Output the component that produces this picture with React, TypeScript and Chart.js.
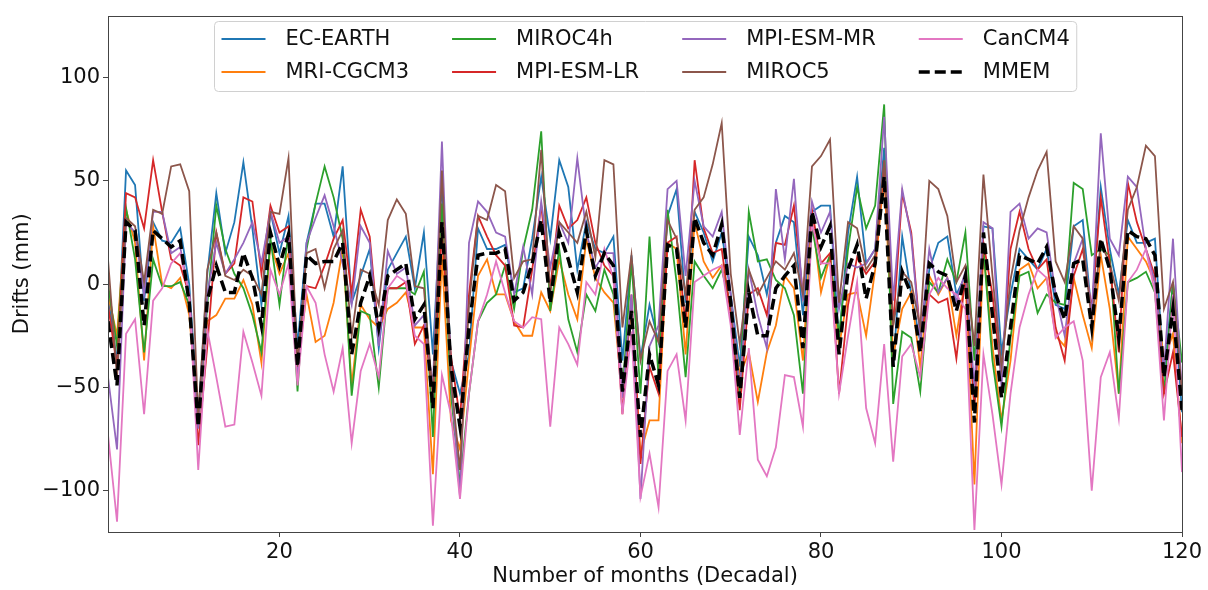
import React, { useEffect, useRef } from "react";
import { Chart, registerables } from "chart.js";
Chart.register(...registerables);

const months = Array.from({ length: 120 }, (_, i) => i + 1);

const ecEarth = [
  -5, -38, 55, 48, -8, 30, 21, 20, 27, 0,
  -65, 5, 44, 15, 30, 59, 27, -10, 35, 15,
  33, -30, 20, 39, 39, 23, 57, -9, 4, 17,
  -31, 7, 15, 23, -2, 25, -34, 49, -37, -53,
  -34, 27, 17, 17, 19, -4, -2, 22, 52, 22,
  60, 47, 7, 30, 17, 15, 23, -37, 14, -36,
  -10, -28, 33, 46, -9, 35, 25, 11, 25, -5,
  -40, 23, 14, -5, 20, 33, 30, -15, 35, 38,
  38, -28, 25, 52, 10, 17, 66, -40, 23, -5,
  -28, 7, 20, 23, -5, 4, -60, 28, 27, -33,
  -5, 17, 12, 7, 17, -10, -12, 28, 31, -15,
  47, 17, -5, 31, 20, 20, 22, -45, 1, -62,
];

const mriCgcm3 = [
  -5, -25, 36, 20, -37, 28, 0, -2, 3, -15,
  -65, -18, -15, -7, -7, 2, -10, -38, 20, 5,
  15, -40, -5, -28, -25, -9, 17, -49, -10, -17,
  -21, -12, -9, -4, -21, -21, -92, 14, -66, -80,
  -37, 4, 12, -5, -5, -18, -25, -25, -4, -13,
  12, -5, -17, 22, 3, -4, -9, -55, -10, -82,
  -66, -66, 20, 17, -34, 30, 11, 3, 9, -12,
  -44, -33, -57, -33, -20, 4, -2, -37, 33, -4,
  14, -30, -5, -4, -25, 7, 53, -35, -12, -4,
  -40, 4, -5, 3, -25, 3, -97, 17, -30, -66,
  -37, 7, 10, -2, 3, -25, -30, 3, -15, -31,
  14, -12, -53, 23, 17, 11, 1, -37, -24, -77,
];

const miroc4h = [
  0, -30, 37, 12, -33, 12, -1, -1, 1, -10,
  -68, -10, 38, 17, 5, -2, -15, -33, 22, -10,
  25, -52, 17, 39, 57, 42, 22, -54, -13, -15,
  -50, -2, -2, -2, -5, 6, -74, 39, -53, -97,
  -53, -18, -9, -5, 9, -12, 17, 36, 74, -13,
  17, -17, -33, -5, -13, 7, -5, -53, 11, -53,
  23, -45, 36, 1, -45, 11, 4, -2, 7, -10,
  -55, 35, 11, 12, 2, -2, -15, -53, 28, 3,
  14, -25, 17, 47, 27, 38, 87, -58, -23, -26,
  -52, 1, -4, 12, 1, 25, -37, 17, -37, -69,
  -26, 4, 6, -14, -5, -9, -10, 49, 46, 14,
  17, 14, -53, 1, 3, 6, -4, -53, 1, -38,
];

const mpiEsmLr = [
  -10, -40, 44, 42, 27, 60, 35, 12, 9, -5,
  -78, -30, 25, 5, 10, 42, 40, 5, 38, 25,
  28, -37, -1, -2, 9, 22, 31, -5, 36, 23,
  -25, -2, -2, 1, -29, -20, -53, 25, -35, -65,
  -5, 33, 23, 14, 9, -20, -21, 7, 38, -2,
  38, 27, 31, 42, 20, 9, 4, -63, -5, -87,
  -40, -53, 20, 23, -20, 60, 27, 15, 17, -15,
  -61, -5, -2, -15, 20, 19, 38, -5, 36, 10,
  15, -53, -10, 13, 5, 11, 58, -20, 44, 25,
  -25, -5, -9, -7, -36, 4, -60, 20, -5, -45,
  17, 35, 17, 7, 12, -21, -37, 4, 17, -12,
  42, 10, -33, 49, 30, 17, 4, -53, -33, -74,
];

const mpiEsmMr = [
  -45, -80, 30, 25, -5, 35, 35, 15, 18, -5,
  -70, -5, 20, 5, 12, 20, 30, 10, 35, 20,
  23, -47, 20, 32, 43, 28, 10, -10, 28, 20,
  -30, 16, 5, 8, -20, -15, -50, 69, -45, -103,
  20, 40, 35, 25, 23, -5, 18, -5, 40, 8,
  30, 20, 61, 25, 8, 15, 15, -55, -5, -104,
  -30, -20, 46, 50, 4, 50, 28, 23, 35, -5,
  -50, 7, -15, -31, 46, 12, 51, -8, 40, 25,
  35, -12, 10, 8, 10, 17, 81, -8, 46, 23,
  -27, 17, -4, 3, -8, 6, -50, 30, 27, -50,
  35, 39, 22, 27, 25, -5, -25, 10, 22, -15,
  73, 22, 14, 52, 47, 17, 1, -42, 22, -53,
];

const miroc5 = [
  12, -45, 32, 28, 1, 36, 34, 57, 58, 45,
  -65, 7, 25, 4, 2, 7, 4, -5, 35, 34,
  61, -40, 15, 17, -2, 17, 26, -25, 7, 5,
  -10, 31, 41, 34, -1, -2, -55, 55, -45, -90,
  -10, 33, 31, 48, 45, 3, 11, 12, 65, -5,
  30, 25, 20, 35, 13, 60, 58, -21, 14, -37,
  -18, -28, 31, 22, -5, 36, 42, 58, 78, 5,
  -29, 7, -5, 3, 11, 7, 15, -5, 57, 62,
  70, -9, 30, 27, 7, 14, 60, -20, 6, 1,
  -21, 50, 46, 33, 1, 9, -30, 53, 4, -40,
  2, 26, 42, 55, 64, 11, 1, 28, 22, -18,
  20, 10, -8, 36, 47, 67, 62, -12, 1, -53,
];

const canCm4 = [
  -73, -115, -24, -17, -63, -8, -2, 10, 15, -5,
  -90, -22, -45, -69, -68, -23, -38, -54, 7, -5,
  10, -49, -1, -9, -34, -52, -31, -77, -42, -29,
  -45, -2, 4, 1, -25, -29, -117, -44, -63, -104,
  -53, -18, -5, 11, -4, -18, -21, -16, -17, -69,
  -21, -29, -39, 1, -5, 17, 3, -63, -23, -103,
  -82, -108, -42, -34, -66, 1, 4, 7, 9, -20,
  -73, -31, -85, -93, -79, -44, -45, -69, 30, 10,
  10, -53, -25, 1, -60, -77, -29, -86, -35, -29,
  -45, -5, 3, -2, -5, -12, -119, -34, -63, -97,
  -53, -21, -5, 7, 3, -26, -21, -18, -37, -100,
  -45, -33, -65, 1, 7, 17, -4, -66, -5, -91,
];

const mmem = [
  -18, -49, 30, 26, -20, 26, 22, 18, 21, -9,
  -69, -8, 9, -4, -4, 15, 3, -20, 25, 9,
  24, -40, 14, 10, 11, 11, 20, -34, -9, 4,
  -21, 4, 7, 10, -17, -10, -60, 30, -40, -69,
  -21, 14, 15, 15, 17, -8, -4, 10, 31, -9,
  25, 12, -4, 26, 4, 15, 9, -52, -13, -74,
  -34, -49, 19, 17, -21, 32, 20, 14, 29, -9,
  -55, -4, -25, -25, -2, 4, 9, -31, 35, 18,
  28, -34, 7, 19, -7, 10, 52, -40, 6, -5,
  -33, 10, 6, 4, -13, 4, -67, 25, -15, -55,
  -21, 14, 12, 10, 18, -5, -17, 10, 12, -21,
  22, 7, -26, 26, 23, 22, 14, -45, -12, -61,
];

const seriesNames = ["EC-EARTH", "MRI-CGCM3", "MIROC4h", "MPI-ESM-LR", "MPI-ESM-MR", "MIROC5", "CanCM4", "MMEM"];
const seriesValues = [ecEarth, mriCgcm3, miroc4h, mpiEsmLr, mpiEsmMr, miroc5, canCm4, mmem];
const seriesColors = ["#1f77b4", "#ff7f0e", "#2ca02c", "#d62728", "#9467bd", "#8c564b", "#e377c2", "#000000"];

const yTicks = [-100, -50, 0, 50, 100];
const xTicks = [20, 40, 60, 80, 100, 120];
const yTitle = "Drifts (mm)";
const xTitle = "Number of months (Decadal)";

const FONT = '"DejaVu Sans", sans-serif';
const FS = 21;

const fmt = (v: number) => (v < 0 ? "\u2212" + Math.abs(v) : String(v));

const framePlugin = {
  id: "mplFrameLegend",
  afterDraw(chart: any) {
    const ctx = chart.ctx;
    const a = chart.chartArea;
    ctx.save();
    // spines
    ctx.strokeStyle = "#444";
    ctx.lineWidth = 1;
    ctx.strokeRect(Math.round(a.left) + 0.5, Math.round(a.top) + 0.5, Math.round(a.right - a.left), Math.round(a.bottom - a.top));

    // legend (matplotlib-like, 4 columns, column-major)
    ctx.font = `${FS}px ${FONT}`;
    const ds = chart.data.datasets;
    const ncol = 4;
    const nrow = 2;
    const handle = 44;
    const textPad = 20;
    const colSpace = 43;
    const borderPad = 7;
    const cols: any[][] = [];
    for (let c = 0; c < ncol; c++) {
      const items: any[] = [];
      for (let r = 0; r < nrow; r++) {
        const i = c * nrow + r;
        if (i < ds.length) items.push(ds[i]);
      }
      cols.push(items);
    }
    const widths = cols.map((items) => handle + textPad + Math.max(...items.map((d) => ctx.measureText(d.label).width)));
    const total = widths.reduce((s, w) => s + w, 0) + colSpace * (ncol - 1) + 2 * borderPad;
    const cx = (a.left + a.right) / 2;
    const left = Math.round(cx - total / 2) + 0.5;
    const top = 21.5;
    const bottom = 91.5;
    const rad = 4;
    ctx.beginPath();
    ctx.moveTo(left + rad, top);
    ctx.lineTo(left + total - rad, top);
    ctx.quadraticCurveTo(left + total, top, left + total, top + rad);
    ctx.lineTo(left + total, bottom - rad);
    ctx.quadraticCurveTo(left + total, bottom, left + total - rad, bottom);
    ctx.lineTo(left + rad, bottom);
    ctx.quadraticCurveTo(left, bottom, left, bottom - rad);
    ctx.lineTo(left, top + rad);
    ctx.quadraticCurveTo(left, top, left + rad, top);
    ctx.closePath();
    ctx.fillStyle = "rgba(255,255,255,0.8)";
    ctx.fill();
    ctx.strokeStyle = "#d0d0d0";
    ctx.lineWidth = 1;
    ctx.stroke();

    const rowY = [39, 72];
    let x = left + borderPad;
    cols.forEach((items, c) => {
      items.forEach((d: any, r: number) => {
        const y = rowY[r];
        ctx.strokeStyle = d.borderColor;
        ctx.lineWidth = d.borderWidth;
        ctx.setLineDash(d.borderDash || []);
        ctx.beginPath();
        ctx.moveTo(x, y);
        ctx.lineTo(x + handle, y);
        ctx.stroke();
        ctx.setLineDash([]);
        ctx.fillStyle = "#111";
        ctx.textBaseline = "middle";
        ctx.textAlign = "left";
        ctx.fillText(d.label, x + handle + textPad, y + 1);
      });
      x += widths[c] + colSpace;
    });
    ctx.restore();
  },
};

export default function App() {
  const ref = useRef<HTMLCanvasElement>(null);
  useEffect(() => {
    document.body.style.margin = "0";
    const datasets = seriesNames.map((name, k) => {
      const isMean = name === "MMEM";
      return {
        label: name,
        data: months.map((m, i) => ({ x: m, y: seriesValues[k][i] })),
        borderColor: seriesColors[k],
        backgroundColor: seriesColors[k],
        borderWidth: isMean ? 3.5 : 1.8,
        borderDash: isMean ? [11, 5] : [],
        pointRadius: 0,
        tension: 0,
        fill: false,
        order: seriesNames.length - 1 - k,
      };
    });
    const chart = new Chart(ref.current as HTMLCanvasElement, {
      type: "line",
      data: { datasets },
      plugins: [framePlugin],
      options: {
        animation: false,
        responsive: false,
        devicePixelRatio: 1,
        layout: { padding: { left: 0, right: 26, top: 11, bottom: 0 } },
        plugins: { legend: { display: false }, tooltip: { enabled: false } },
        font: { family: FONT, size: FS },
        scales: {
          x: {
            type: "linear",
            min: 1,
            max: 120,
            afterBuildTicks: (axis: any) => {
              axis.ticks = xTicks.map((v) => ({ value: v }));
            },
            afterFit: (scale: any) => {
              scale.height = 58;
            },
            ticks: {
              autoSkip: false,
              maxRotation: 0,
              padding: 3,
              color: "#111",
              font: { family: FONT, size: FS },
              callback: (v: any) => fmt(Number(v)),
            },
            grid: { drawOnChartArea: false, drawTicks: true, tickLength: 5, tickColor: "#444", tickWidth: 1 },
            border: { display: false },
            title: { display: true, text: xTitle, color: "#111", font: { family: FONT, size: FS }, padding: { top: 0, bottom: 1 } },
          },
          y: {
            type: "linear",
            min: -120,
            max: 130,
            afterBuildTicks: (axis: any) => {
              axis.ticks = yTicks.map((v) => ({ value: v }));
            },
            afterFit: (scale: any) => {
              scale.width = 108;
            },
            ticks: {
              padding: 3,
              color: "#111",
              font: { family: FONT, size: FS },
              callback: (v: any) => fmt(Number(v)),
            },
            grid: { drawOnChartArea: false, drawTicks: true, tickLength: 5, tickColor: "#444", tickWidth: 1 },
            border: { display: false },
            title: { display: true, text: yTitle, color: "#111", font: { family: FONT, size: FS }, padding: { top: 10, bottom: 0 } },
          },
        },
      } as any,
    });
    return () => chart.destroy();
  }, []);
  return (
    <div style={{ width: 1208, height: 590, background: "#fff" }}>
      <canvas ref={ref} width={1208} height={590} style={{ display: "block" }} />
    </div>
  );
}
